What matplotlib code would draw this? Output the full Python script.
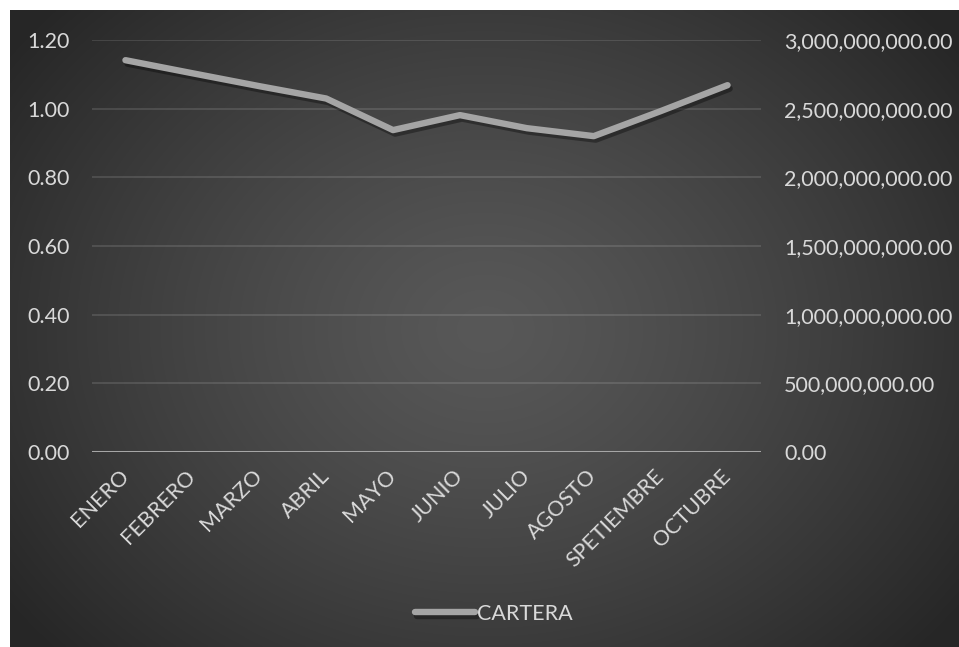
import numpy as np
import matplotlib
matplotlib.use('Agg')
import matplotlib.pyplot as plt
import matplotlib.patheffects as pe
from matplotlib.ticker import FuncFormatter

# data
meses = ['ENERO', 'FEBRERO', 'MARZO', 'ABRIL', 'MAYO', 'JUNIO', 'JULIO',
         'AGOSTO', 'SPETIEMBRE', 'OCTUBRE']
cartera = [2.853e9, 2.758e9, 2.664e9, 2.574e9, 2.344e9, 2.453e9, 2.358e9,
           2.300e9, 2.482e9, 2.671e9]
left_ticks = [0.0, 0.2, 0.4, 0.6, 0.8, 1.0, 1.2]
right_ticks = [0, 5e8, 1e9, 1.5e9, 2e9, 2.5e9, 3e9]

txt_color = '#d9d9d9'
font = 'Lato'
fs = 15.5

W, H = 959, 647
fig = plt.figure(figsize=(W / 100, H / 100), dpi=100)
fig.patch.set_facecolor('white')

# radial gradient background
bg = fig.add_axes([10 / W, 0, 1 - 10 / W, 1 - 10 / H])
ny, nx = 300, 450
yy, xx = np.mgrid[0:ny, 0:nx]
cx, cy = nx * 0.5, ny * 0.5
r = np.sqrt(((xx - cx) / (nx * 0.62)) ** 2 + ((yy - cy) / (ny * 0.75)) ** 2)
r = np.clip(r, 0, 1)
val = 0.345 - (0.345 - 0.15) * r ** 1.3
img = np.dstack([val, val, val])
bg.imshow(img, aspect='auto', extent=[0, 1, 0, 1], interpolation='bilinear')
bg.set_xlim(0, 1)
bg.set_ylim(0, 1)
bg.set_axis_off()

ax = fig.add_axes([92 / W, 1 - 452 / H, (761 - 92) / W, (452 - 40) / H])
ax.set_facecolor('none')
ax.set_xlim(-0.5, len(meses) - 0.5)
ax.set_ylim(0, 1.2)
ax.set_yticks(left_ticks)
ax.yaxis.set_major_formatter(FuncFormatter(lambda v, p: '%.2f' % v))
for y in left_ticks[1:]:
    ax.axhline(y, color='white', alpha=0.13, lw=1.3, zorder=0)
ax.axhline(0, color='#a6a6a6', lw=2.2, zorder=1)
for s in ax.spines.values():
    s.set_visible(False)
ax.tick_params(axis='both', length=0, colors=txt_color, labelsize=fs)
ax.tick_params(axis='y', pad=16)
ax.set_xticks(range(len(meses)))
ax.set_xticklabels(meses, rotation=45, ha='right', va='center',
                   rotation_mode='anchor', family=font, fontsize=fs,
                   color=txt_color)
ax.tick_params(axis='x', pad=15)
for lab in ax.get_yticklabels():
    lab.set_family(font)

ax2 = ax.twinx()
ax2.set_ylim(0, 3e9)
ax2.set_yticks(right_ticks)
ax2.yaxis.set_major_formatter(FuncFormatter(lambda v, p: '{:,.2f}'.format(v)))
for s in ax2.spines.values():
    s.set_visible(False)
ax2.tick_params(axis='y', length=0, colors=txt_color, labelsize=fs, pad=16.5)
for lab in ax2.get_yticklabels():
    lab.set_family(font)

line, = ax2.plot(range(len(meses)), cartera, color='#a5a5a5', lw=4.6,
                 solid_capstyle='round', solid_joinstyle='round',
                 label='CARTERA',
                 path_effects=[pe.SimpleLineShadow(offset=(1.5, -2.5),
                                                   shadow_color='black',
                                                   alpha=0.35),
                               pe.Normal()])

leg = fig.legend(handles=[line], loc='center',
                 bbox_to_anchor=(494 / W, 1 - 614 / H), frameon=False,
                 handlelength=2.8, handletextpad=0.1,
                 prop={'family': font, 'size': fs})
for t in leg.get_texts():
    t.set_color(txt_color)

fig.savefig('out.png', dpi=100, facecolor='white')
